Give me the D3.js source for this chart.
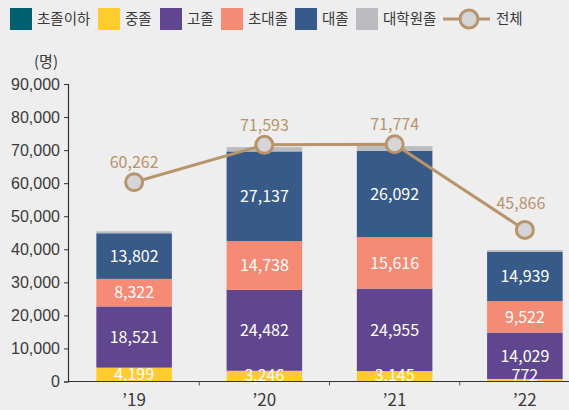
<!DOCTYPE html>
<html>
<head>
<meta charset="utf-8">
<script src="https://cdn.jsdelivr.net/npm/d3@7"></script>
<style>
  html, body { margin: 0; padding: 0; background: #eeeeee; }
  svg { display: block; font-family: "Noto Sans CJK KR", "Noto Sans", sans-serif; }
</style>
</head>
<body>
<svg id="chart" width="569" height="410"></svg>
<script>
// Years on the x axis
const years = ["’19", "’20", "’21", "’22"];

// Headcount by education level (명)
const elementary = [0, 0, 0, 0];            // 초졸이하
const middle     = [4199, 3246, 3145, 772];   // 중졸
const high       = [18521, 24482, 24955, 14029]; // 고졸
const college    = [8322, 14738, 15616, 9522];   // 초대졸
const university = [13802, 27137, 26092, 14939]; // 대졸
const graduate   = [600, 1300, 1400, 500];       // 대학원졸
const total      = [60262, 71593, 71774, 45866]; // 전체

const seriesNames  = ["초졸이하", "중졸", "고졸", "초대졸", "대졸", "대학원졸"];
const seriesValues = [elementary, middle, high, college, university, graduate];
const seriesColors = ["#00606f", "#ffcb2f", "#5f468f", "#f58a75", "#385a88", "#bbbcc0"];
const labelled     = [false, true, true, true, true, false];

const yTicks = [0, 10000, 20000, 30000, 40000, 50000, 60000, 70000, 80000, 90000];

const lineColor = "#b8936b";
const fmt = d3.format(",");

const svg = d3.select("#chart");

const x = d3.scaleBand().domain(years).range([69, 590]).paddingInner(0.42).paddingOuter(0.21);
const y = d3.scaleLinear().domain([0, 90000]).range([381.5, 84]);

// rows for the stack
const rows = years.map((yr, i) => {
  const r = { year: yr };
  seriesNames.forEach((n, k) => r[n] = seriesValues[k][i]);
  return r;
});
const stacked = d3.stack().keys(seriesNames)(rows);

// y axis
const yAxis = svg.append("g")
  .attr("transform", "translate(68,0)")
  .call(d3.axisLeft(y).tickValues(yTicks).tickFormat(fmt).tickSize(4).tickPadding(4));
yAxis.select(".domain").attr("stroke", "#333").attr("stroke-width", 1.2);
yAxis.selectAll(".tick line").attr("stroke", "#333");
yAxis.selectAll(".tick text").attr("fill", "#3a3a3a").style("font-size", "16px");

svg.append("text")
  .attr("x", 58).attr("y", 67)
  .attr("text-anchor", "end")
  .attr("fill", "#3a3a3a")
  .style("font-size", "15px")
  .text("(명)");

// bars
const layers = svg.append("g").selectAll("g")
  .data(stacked).join("g")
  .attr("fill", (d, k) => seriesColors[k]);

layers.selectAll("rect")
  .data(d => d)
  .join("rect")
  .attr("x", d => x(d.data.year))
  .attr("width", x.bandwidth())
  .attr("y", d => y(d[1]))
  .attr("height", d => y(d[0]) - y(d[1]));

// value labels inside the bars
stacked.forEach((layer, k) => {
  if (!labelled[k]) return;
  svg.append("g").selectAll("text")
    .data(layer).join("text")
    .attr("x", d => x(d.data.year) + x.bandwidth() / 2)
    .attr("y", d => Math.min((y(d[0]) + y(d[1])) / 2, y(d[0]) - 6.5))
    .attr("dy", "0.36em")
    .attr("text-anchor", "middle")
    .attr("fill", "#ffffff")
    .style("font-size", "16px")
    .text(d => fmt(d[1] - d[0]));
});

// x axis
const xAxis = svg.append("g").attr("transform", "translate(0,381.5)");
xAxis.append("line")
  .attr("x1", 68).attr("x2", 569)
  .attr("stroke", "#333").attr("stroke-width", 1.2);
const bounds = years.slice(1).map(yr => x(yr) - x.step() * x.paddingInner() / 2);
xAxis.selectAll("line.tk").data(bounds).join("line")
  .attr("class", "tk")
  .attr("x1", d => d).attr("x2", d => d)
  .attr("y1", 0).attr("y2", 4)
  .attr("stroke", "#555");
xAxis.selectAll("text").data(years).join("text")
  .attr("x", d => x(d) + x.bandwidth() / 2)
  .attr("y", 24)
  .attr("text-anchor", "middle")
  .attr("fill", "#3a3a3a")
  .style("font-size", "17px")
  .text(d => d);

// total line
const cx = (d, i) => x(years[i]) + x.bandwidth() / 2;
svg.append("path")
  .datum(total)
  .attr("fill", "none")
  .attr("stroke", lineColor)
  .attr("stroke-width", 3)
  .attr("d", d3.line().x(cx).y(d => y(d)));

svg.append("g").selectAll("circle")
  .data(total).join("circle")
  .attr("cx", cx).attr("cy", d => y(d))
  .attr("r", 8.5)
  .attr("fill", "#d5d5d7")
  .attr("stroke", lineColor)
  .attr("stroke-width", 3);

// the last label sits higher so it clears the falling line
svg.append("g").selectAll("text")
  .data(total).join("text")
  .attr("x", (d, i) => cx(d, i) - (i === total.length - 1 ? 4 : 0))
  .attr("y", (d, i) => y(d) - (i === total.length - 1 ? 21 : 14))
  .attr("text-anchor", "middle")
  .attr("fill", lineColor)
  .style("font-size", "16px")
  .text(d => fmt(d));

// legend
const legend = svg.append("g");
const legendX = [10, 98, 160, 221, 295, 356];
seriesNames.forEach((n, k) => {
  const g = legend.append("g").attr("transform", `translate(${legendX[k]},8)`);
  g.append("rect").attr("width", 22).attr("height", 22).attr("fill", seriesColors[k]);
  g.append("text").attr("x", 27).attr("y", 11).attr("dy", "0.36em")
    .attr("fill", "#3a3a3a").style("font-size", "14.5px").text(n);
});
const lg = legend.append("g").attr("transform", "translate(443,19)");
lg.append("line").attr("x1", 0).attr("x2", 47).attr("stroke", lineColor).attr("stroke-width", 3);
lg.append("circle").attr("cx", 26).attr("r", 9).attr("fill", "#d5d5d7")
  .attr("stroke", lineColor).attr("stroke-width", 3);
lg.append("text").attr("x", 53).attr("y", 0).attr("dy", "0.36em")
  .attr("fill", "#3a3a3a").style("font-size", "14.5px").text("전체");
</script>
</body>
</html>
